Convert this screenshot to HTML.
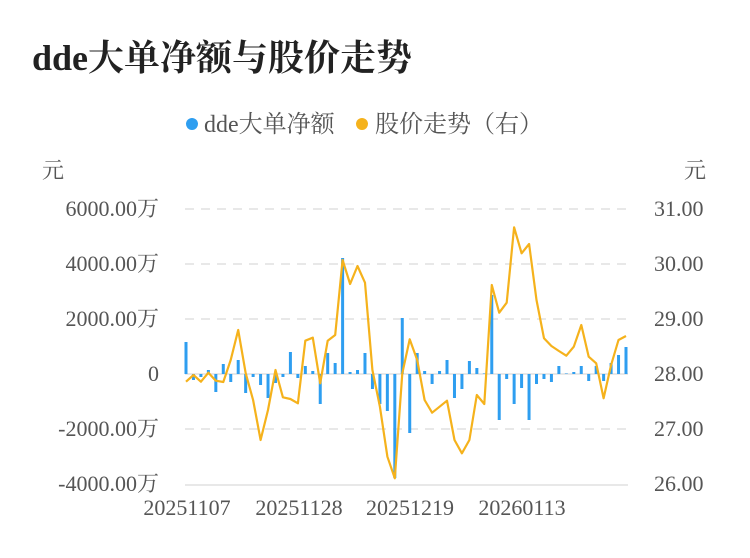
<!DOCTYPE html>
<html><head><meta charset="utf-8"><style>
body{margin:0;background:#fff;width:750px;height:558px;overflow:hidden}
svg{display:block;font-family:"Liberation Serif","Noto Serif CJK SC",serif}
</style></head><body>
<svg id="s" width="750" height="558" xmlns="http://www.w3.org/2000/svg">
<text x="32" y="70" font-size="36" font-weight="bold" fill="#222">dde大单净额与股价走势</text>
<circle cx="192" cy="124" r="6" fill="#2e9ef0"/>
<text x="204" y="132" font-size="24" fill="#555">dde大单净额</text>
<circle cx="362" cy="124" r="6" fill="#f5b21c"/>
<text x="375" y="132" font-size="24" fill="#555">股价走势（右）</text>
<text x="42" y="178" font-size="22" fill="#555">元</text>
<text x="684" y="178" font-size="22" fill="#555">元</text>
<g stroke="#e8e8e8" stroke-width="2" stroke-dasharray="9,7">
<line x1="185" y1="209" x2="628" y2="209"/><line x1="185" y1="264" x2="628" y2="264"/>
<line x1="185" y1="319" x2="628" y2="319"/><line x1="185" y1="429" x2="628" y2="429"/>
</g>
<line x1="185" y1="374" x2="628" y2="374" stroke="#e8e8e8" stroke-width="2"/>
<line x1="185" y1="485" x2="628" y2="485" stroke="#e8e8e8" stroke-width="2"/>
<g font-size="22" fill="#555" text-anchor="end">
<text x="159" y="216">6000.00万</text><text x="159" y="271">4000.00万</text>
<text x="159" y="326">2000.00万</text><text x="159" y="381">0</text>
<text x="159" y="436">-2000.00万</text><text x="159" y="491">-4000.00万</text>
</g>
<g font-size="22" fill="#555">
<text x="654" y="216">31.00</text><text x="654" y="271">30.00</text>
<text x="654" y="326">29.00</text><text x="654" y="381">28.00</text>
<text x="654" y="436">27.00</text><text x="654" y="491">26.00</text>
</g>
<g font-size="22" fill="#555" text-anchor="middle">
<text x="187" y="515">20251107</text><text x="299" y="515">20251128</text>
<text x="410" y="515">20251219</text><text x="522" y="515">20260113</text>
</g>
<g id="bars" fill="#2e9ef0"></g>
<polyline id="ln" fill="none" stroke="#f5b21c" stroke-width="2.2" stroke-linejoin="round"/>
</svg>
<script>
var b=[32,-6,-3,4,-18,10,-8,14,-19,-3,-11,-24,-9,-3,22,-4,8,3,-30,21,11,116,2,4,21,-15,-30,-37,-104,56,-59,21,3,-10,3,14,-24,-15,13,6,0.5,79,-46,-5,-30,-14,-46,-10,-5,-8,8,0.5,2,8,-7,8,-7,11,19,27];
var l=[485,465,485,458,482,486,420,330,460,540,660,570,450,532,537,550,362,353,490,362,345,120,192,138,188,450,560,710,775,460,358,420,540,578,560,542,660,700,660,525,552,195,278,248,22,100,72,240,355,378,393,407,380,315,410,430,535,435,360,348];
var g=document.getElementById('bars'),pts=[];
for(var i=0;i<60;i++){var x=186+i*440/59,v=b[i];
var r=document.createElementNS('http://www.w3.org/2000/svg','rect');
r.setAttribute('x',x-1.5);r.setAttribute('width',3);
r.setAttribute('y',v>0?374-v:374);r.setAttribute('height',Math.abs(v));g.appendChild(r);
pts.push(x.toFixed(1)+','+(220+l[i]/3).toFixed(1));}
document.getElementById('ln').setAttribute('points',pts.join(' '));
</script>
</body></html>
